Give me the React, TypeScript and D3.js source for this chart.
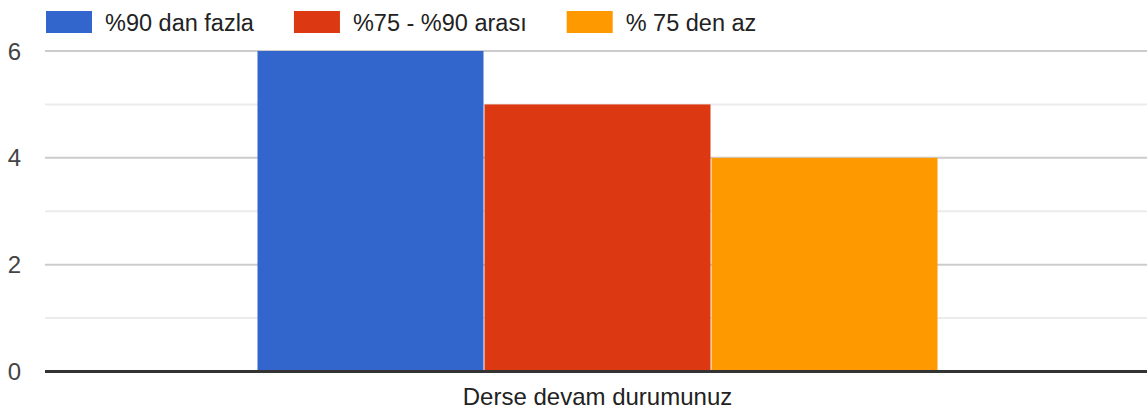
import React, { useEffect, useRef } from 'react';
import * as d3 from 'd3';

const categories = ['Derse devam durumunuz'];
const seriesNames = ['%90 dan fazla', '%75 - %90 arası', '% 75 den az'];
const seriesValues = [6, 5, 4];
const majorTicks = [0, 2, 4, 6];
const minorTicks = [1, 3, 5];
const colors = ['#3366cc', '#dc3912', '#ff9900'];

const W = 1147;
const H = 413;
const FONT = 'Arial, "Liberation Sans", sans-serif';

export default function App() {
  const ref = useRef<SVGSVGElement>(null);

  useEffect(() => {
    const svg = d3.select(ref.current);
    svg.selectAll('*').remove();

    const left = 45;
    const right = W;

    const y = d3.scaleLinear().domain([0, 6]).range([371.5, 51]);

    // plot area runs a little past the right edge of the window
    const x0 = d3.scaleBand<string>()
      .domain(categories)
      .range([left, right + 3])
      .paddingInner(0)
      .paddingOuter(0.3113);

    const x1 = d3.scaleBand<string>()
      .domain(seriesNames)
      .range([0, x0.bandwidth()]);

    const color = d3.scaleOrdinal<string, string>().domain(seriesNames).range(colors);

    // gridlines
    svg.append('g')
      .selectAll('line')
      .data(minorTicks)
      .enter()
      .append('line')
      .attr('x1', left).attr('x2', right)
      .attr('y1', d => y(d)).attr('y2', d => y(d))
      .attr('stroke', '#ebebeb')
      .attr('stroke-width', 2);

    svg.append('g')
      .selectAll('line')
      .data(majorTicks.filter(d => d !== 0))
      .enter()
      .append('line')
      .attr('x1', left).attr('x2', right)
      .attr('y1', d => y(d)).attr('y2', d => y(d))
      .attr('stroke', '#cccccc')
      .attr('stroke-width', 2);

    // bars
    const groups = svg.append('g')
      .selectAll('g')
      .data(categories)
      .enter()
      .append('g')
      .attr('transform', d => `translate(${x0(d)},0)`);

    groups.selectAll('rect')
      .data(() => seriesNames.map((s, i) => ({ s, v: seriesValues[i] })))
      .enter()
      .append('rect')
      .attr('x', d => (x1(d.s) as number) + 0.5)
      .attr('width', x1.bandwidth() - 1)
      .attr('y', d => y(d.v))
      .attr('height', d => y(0) - y(d.v))
      .attr('fill', d => color(d.s));

    // baseline
    svg.append('line')
      .attr('x1', left).attr('x2', right)
      .attr('y1', y(0)).attr('y2', y(0))
      .attr('stroke', '#333333')
      .attr('stroke-width', 3);

    // y labels
    svg.append('g')
      .selectAll('text')
      .data(majorTicks)
      .enter()
      .append('text')
      .attr('x', 21)
      .attr('y', d => y(d) + 8.5)
      .attr('text-anchor', 'end')
      .attr('font-family', FONT)
      .attr('font-size', 24)
      .attr('fill', '#444444')
      .text(d => d);

    // x labels
    svg.append('g')
      .selectAll('text')
      .data(categories)
      .enter()
      .append('text')
      .attr('x', d => (x0(d) as number) + x0.bandwidth() / 2)
      .attr('y', 405)
      .attr('text-anchor', 'middle')
      .attr('font-family', FONT)
      .attr('font-size', 24)
      .attr('fill', '#222222')
      .text(d => d);

    // legend
    const legend = svg.append('g');
    let lx = 46;
    seriesNames.forEach(s => {
      legend.append('rect')
        .attr('x', lx).attr('y', 11)
        .attr('width', 46).attr('height', 22)
        .attr('fill', color(s));
      const t = legend.append('text')
        .attr('x', lx + 59)
        .attr('y', 31)
        .attr('font-family', FONT)
        .attr('font-size', 23.5)
        .attr('fill', '#222222')
        .text(s);
      const w = (t.node() as SVGTextElement).getComputedTextLength();
      lx = lx + 59 + w + 40;
    });
  }, []);

  return (
    <svg
      ref={ref}
      width={W}
      height={H}
      style={{ position: 'absolute', left: 0, top: 0, background: '#fff' }}
    />
  );
}
